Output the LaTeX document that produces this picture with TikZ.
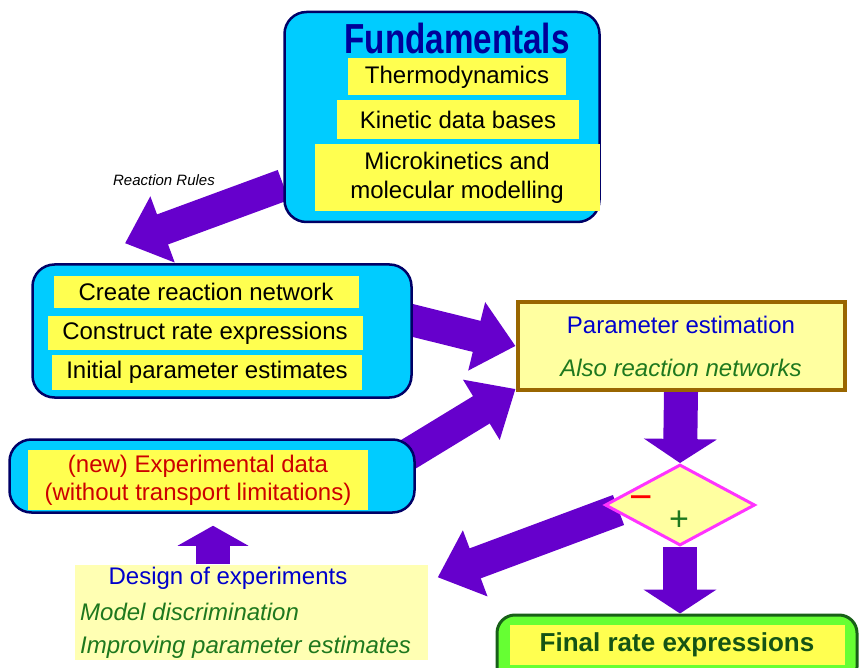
\documentclass[tikz,border=0pt]{standalone}
\usepackage{fontspec}
\setmainfont{Liberation Sans}
\newfontfamily\narrowfont[FakeStretch=0.79]{Liberation Sans}
\usetikzlibrary{arrows.meta,shapes.geometric,backgrounds}
\definecolor{boxcyan}{RGB}{0,204,255}
\definecolor{navy}{RGB}{0,0,102}
\definecolor{titleblue}{RGB}{0,0,153}
\definecolor{txtblue}{RGB}{0,0,204}
\definecolor{yel}{RGB}{255,255,80}
\definecolor{paleyel}{RGB}{255,255,160}
\definecolor{purp}{RGB}{102,0,204}
\definecolor{txtgreen}{RGB}{30,120,30}
\definecolor{brownline}{RGB}{153,102,0}
\definecolor{magline}{RGB}{255,51,255}
\definecolor{limegr}{RGB}{102,255,51}
\definecolor{darkred}{RGB}{204,0,0}

\begin{document}
\begin{tikzpicture}[x=1pt,y=-1pt,font=\fontsize{24}{29}\selectfont]
  \tikzstyle{bluebox}=[draw=navy,line width=2.5pt,fill=boxcyan,rounded corners=22pt]
  \tikzstyle{yelbox}=[fill=yel,inner sep=0pt]
  \tikzstyle{bigarrow}=[line width=32pt,purp,-{Triangle[length=40pt,width=68pt]}]
  \tikzstyle{downarrow}=[line width=34pt,purp,-{Triangle[length=24pt,width=72pt]}]
  \tikzstyle{greentxt}=[text=txtgreen,font=\fontsize{24}{29}\selectfont\itshape]

  \useasboundingbox (0,0) rectangle (862,668);

  % fundamentals on top
  \node [bluebox,minimum width=315pt,minimum height=210pt] (fund) at (442,117) {};
  \node [text=titleblue,font=\narrowfont\fontsize{42}{42}\selectfont\bfseries] (title) at (457,38) {Fundamentals};
  \node [yelbox,minimum width=218pt,minimum height=37pt] (thermo) at (457,77) {Thermodynamics};
  \node [yelbox,minimum width=242pt,minimum height=39pt] (kinetic) at (458,120) {Kinetic data bases};
  \node [yelbox,minimum width=285pt,minimum height=67pt,align=center] (micro) at (457,178) {Microkinetics and\\molecular modelling};
  \node [font=\fontsize{15}{18}\selectfont\itshape] (rules) at (164,180) {Reaction Rules};

  % model building block
  \node [bluebox,minimum width=379pt,minimum height=133pt] (model) at (222,331) {};
  \node [yelbox,minimum width=305pt,minimum height=32pt] (create) at (206,292) {Create reaction network};
  \node [yelbox,minimum width=315pt,minimum height=34pt] (construct) at (205,333) {Construct rate expressions};
  \node [yelbox,minimum width=310pt,minimum height=35pt] (initial) at (207,372) {Initial parameter estimates};

  % experimental data
  \node [bluebox,minimum width=405pt,minimum height=73pt] (expbox) at (212,476) {};
  \node [yelbox,text=darkred,minimum width=340pt,minimum height=60pt,align=center,font=\fontsize{24}{28}\selectfont] (expdata) at (198,480) {(new) Experimental data\\(without transport limitations)};

  % parameter estimation
  \node [draw=brownline,line width=4pt,fill=paleyel,minimum width=327pt,minimum height=88pt] (param) at (681,346) {};
  \node [text=txtblue] (paramtxt) at (681,325) {Parameter estimation};
  \node [greentxt] (alsotxt) at (681,368) {Also reaction networks};

  % the decision
  \node [diamond,draw=magline,line width=3pt,fill=paleyel,inner sep=0pt,aspect=1.85,minimum width=150pt,minimum height=81pt] (decide) at (680,505) {};
  \node [text=red,font=\fontsize{40}{40}\selectfont] (minus) at (641,503) {−};
  \node [text=txtgreen,font=\fontsize{34}{34}\selectfont] (plus) at (679,521) {+};

  % design of experiments
  \node [fill=paleyel!80!white,minimum width=353pt,minimum height=95pt] (design) at (251,612) {};
  \node [text=txtblue] (designtxt) at (228,578) {Design of experiments};
  \node [greentxt,anchor=west,inner sep=0pt] (discr) at (80,612) {Model discrimination};
  \node [greentxt,anchor=west,inner sep=0pt] (improve) at (80,647) {Improving parameter estimates};

  % final result
  \node [draw=txtgreen!80!black,line width=3pt,fill=limegr,rounded corners=18pt,minimum width=360pt,minimum height=70pt] (final) at (677,650) {};
  \node [yelbox,text=txtgreen!70!black,minimum width=335pt,minimum height=40pt,font=\fontsize{26}{30}\selectfont\bfseries] (finaltxt) at (677,645) {Final rate expressions};

  % the fat arrows behind everything
  \begin{scope}[on background layer]
    \draw [bigarrow] ([yshift=-68pt]fund.west) -- ([xshift=-97pt,yshift=20pt]model.north);
    \draw [bigarrow] ([xshift=-10pt,yshift=13pt]model.east) -- (param.west);
    \draw [bigarrow] ([xshift=-20pt,yshift=14pt]expbox.east) -- ([yshift=3pt]param.south west);
    \draw [downarrow] (param.south) -- (decide.north);
    \draw [downarrow] (decide.south) -- (decide.south |- final.north);
    \draw [bigarrow] ([xshift=15pt,yshift=-5pt]decide.west) -- ([xshift=10pt,yshift=-13pt]design.north east);
    \draw [downarrow,-{Triangle[length=20pt,width=70pt]}] ([xshift=-38pt]design.north) -- ([xshift=1pt,yshift=-12pt]expbox.south);
  \end{scope}
\end{tikzpicture}
\end{document}
